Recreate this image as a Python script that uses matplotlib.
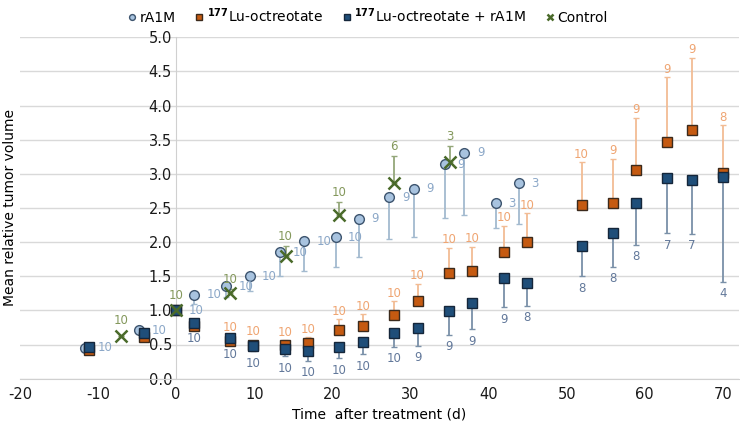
import matplotlib
matplotlib.use("Agg")
import matplotlib.pyplot as plt
import numpy as np

plt.rcParams['axes.unicode_minus'] = False

# rA1M
days_a = [-11.7, -4.7, 0, 2.3, 6.4, 9.4, 13.3, 16.4, 20.4, 23.4, 27.3, 30.4, 34.4, 36.9, 40.9, 43.9]
vol_a = [0.45, 0.71, 1.0, 1.23, 1.35, 1.50, 1.85, 2.01, 2.07, 2.34, 2.66, 2.78, 3.14, 3.31, 2.57, 2.86]
err_a = [0, 0, 0, 0.13, 0.15, 0.21, 0.35, 0.43, 0.44, 0.56, 0.61, 0.70, 0.78, 0.91, 0.36, 0.60]
n_a = [10, 10, 10, 10, 10, 10, 10, 10, 10, 9, 9, 9, 9, 9, 3, 3]

# 177Lu-octreotate and 177Lu-octreotate + rA1M share the same days
days_lu = [-11.2, -4.1, 0, 2.3, 6.9, 9.8, 13.9, 16.9, 20.9, 23.9, 27.9, 30.9, 34.9, 37.9,
           42.0, 44.9, 51.9, 55.9, 58.9, 62.9, 66.0, 70.0]
vol_lu = [0.42, 0.61, 1.0, 0.77, 0.55, 0.50, 0.50, 0.52, 0.71, 0.77, 0.93, 1.13, 1.55, 1.58,
          1.85, 2.00, 2.55, 2.57, 3.05, 3.47, 3.64, 3.01]
err_lu = [0, 0, 0, 0, 0, 0, 0.06, 0.09, 0.16, 0.17, 0.20, 0.26, 0.37, 0.35,
          0.39, 0.42, 0.62, 0.65, 0.77, 0.95, 1.06, 0.70]
n_lu = [None, None, None, None, 10, 10, 10, 10, 10, 10, 10, 10, 10, 10,
        10, 10, 10, 9, 9, 9, 9, 8]

vol_comb = [0.47, 0.67, 1.0, 0.82, 0.59, 0.48, 0.44, 0.40, 0.46, 0.54, 0.67, 0.74, 0.99, 1.11,
            1.47, 1.40, 1.94, 2.14, 2.57, 2.94, 2.91, 2.95]
err_comb = [0, 0, 0, 0, 0, 0.08, 0.11, 0.14, 0.16, 0.18, 0.20, 0.26, 0.35, 0.39,
            0.42, 0.33, 0.44, 0.50, 0.61, 0.81, 0.79, 1.53]
n_comb = [None, None, None, 10, 10, 10, 10, 10, 10, 10, 10, 9, 9, 9,
          9, 8, 8, 8, 8, 7, 7, 4]

# Control
days_c = [-7.05, 0, 6.9, 14.0, 20.9, 27.9, 35.0]
vol_c = [0.63, 1.0, 1.26, 1.80, 2.40, 2.87, 3.17]
err_c = [0, 0, 0.06, 0.14, 0.19, 0.39, 0.24]
n_c = [10, 10, 10, 10, 10, 6, 3]

fig = plt.figure(figsize=(7.4, 4.24), dpi=100)
ax = fig.add_axes([0.027, 0.107, 0.971, 0.805])

zeros_a = np.zeros(len(err_a))
zeros_lu = np.zeros(len(err_lu))
zeros_c = np.zeros(len(err_c))

# error bars (drawn under the markers)
ax.errorbar(days_a, vol_a, yerr=[err_a, zeros_a], fmt='none', ecolor='#A3BACF',
            elinewidth=1.3, capsize=2.5, capthick=1.0, zorder=2)
ax.errorbar(days_lu, vol_lu, yerr=[zeros_lu, err_lu], fmt='none', ecolor='#F2BC94',
            elinewidth=1.3, capsize=2.5, capthick=1.0, zorder=2)
ax.errorbar(days_lu, vol_comb, yerr=[err_comb, zeros_lu], fmt='none', ecolor='#7A90A8',
            elinewidth=1.3, capsize=2.5, capthick=1.0, zorder=2)
ax.errorbar(days_c, vol_c, yerr=[zeros_c, err_c], fmt='none', ecolor='#94A77A',
            elinewidth=1.3, capsize=2.5, capthick=1.0, zorder=2)

ax.plot(days_a, vol_a, 'o', ms=7, mfc='#A8C3DF', mec='#3D546E', mew=1.0, zorder=3,
        label='rA1M')
ax.plot(days_lu, vol_lu, 's', ms=7, mfc='#C55A11', mec='#3B2A1C', mew=1.0, zorder=4,
        label=r'$^{\mathbf{177}}$Lu-octreotate')
ax.plot(days_lu, vol_comb, 's', ms=7, mfc='#1F4E79', mec='#15263A', mew=1.0, zorder=5,
        label=r'$^{\mathbf{177}}$Lu-octreotate + rA1M')
ax.plot(days_c, vol_c, 'x', ms=8, mew=1.8, color='#4A6A2A', zorder=6, label='Control')

# data labels (number of animals)
fs = 8.5
for x, y, n in zip(days_a, vol_a, n_a):
    ax.annotate(str(n), (x, y), xytext=(9, 0), textcoords='offset points',
                ha='left', va='center', fontsize=fs, color='#8CA8C8', zorder=7)
for x, y, e, n in zip(days_lu, vol_lu, err_lu, n_lu):
    if n is None:
        continue
    off = 1 if e > 0 else 5
    ax.annotate(str(n), (x, y + e), xytext=(0, off), textcoords='offset points',
                ha='center', va='bottom', fontsize=fs, color='#EFA572', zorder=7)
for x, y, e, n in zip(days_lu, vol_comb, err_comb, n_comb):
    if n is None:
        continue
    off = -4 if e > 0 else -7
    ax.annotate(str(n), (x, y - e), xytext=(0, off), textcoords='offset points',
                ha='center', va='top', fontsize=fs, color='#62789A', zorder=7)
for x, y, e, n in zip(days_c, vol_c, err_c, n_c):
    off = 2 if e > 0 else 6
    ax.annotate(str(n), (x, y + e), xytext=(0, off), textcoords='offset points',
                ha='center', va='bottom', fontsize=fs, color='#84985C', zorder=7)

ax.set_xlim(-20, 72)
ax.set_ylim(0, 5)
ax.set_xticks(np.arange(-20, 71, 10))
ax.set_yticks(np.arange(0, 5.01, 0.5))
ax.set_yticklabels(['%.1f' % v for v in np.arange(0, 5.01, 0.5)])
ax.tick_params(axis='both', length=0, labelsize=10.5, colors='#1a1a1a')
ax.tick_params(axis='y', pad=3)
ax.tick_params(axis='x', pad=6)

ax.grid(axis='y', color='#D9D9D9', lw=1.0)
ax.set_axisbelow(True)
for s in ['top', 'right']:
    ax.spines[s].set_visible(False)
ax.spines['left'].set_position(('data', 0))
ax.spines['left'].set_color('#D0D0D0')
ax.spines['bottom'].set_color('#D0D0D0')

ax.set_xlabel('Time  after treatment (d)', fontsize=10, labelpad=4)
ax.set_ylabel('Mean relative tumor volume', fontsize=10)
ax.yaxis.set_label_coords(-0.004, 0.5)

fig.legend(loc='upper center', bbox_to_anchor=(0.497, 1.015), ncol=4, frameon=False,
           fontsize=10, markerscale=0.6, handlelength=0.6, handletextpad=0.25,
           columnspacing=1.4)

fig.savefig('out.png', dpi=100)
